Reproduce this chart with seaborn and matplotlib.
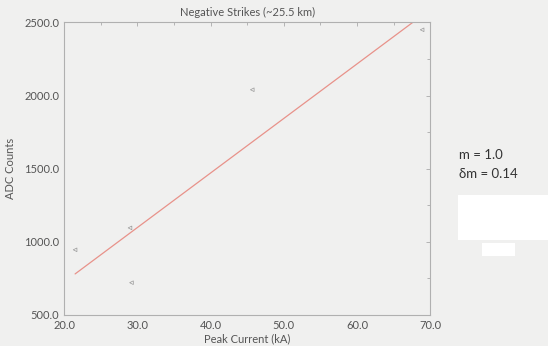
import numpy as np
import pandas as pd
import matplotlib
matplotlib.use("Agg")
import matplotlib.pyplot as plt
from matplotlib.ticker import MultipleLocator, FormatStrFormatter
import seaborn as sns

peak_current = [21.5, 29.0, 29.2, 45.7, 68.9]
adc_counts = [945, 1095, 720, 2040, 2450]

# fitted line end points
fit_x = [21.5, 67.6]
fit_y = [780, 2500]

df = pd.DataFrame({"Peak Current (kA)": peak_current, "ADC Counts": adc_counts})
fit = pd.DataFrame({"x": fit_x, "y": fit_y})

sns.set_theme(style="white")
plt.rcParams["font.family"] = ["Lato", "DejaVu Sans"]

bg = "#f0f0ef"
txt = "#555555"
fig = plt.figure(figsize=(5.48, 3.46), dpi=100, facecolor=bg)
ax = fig.add_axes([0.117, 0.09, 0.668, 0.845])
ax.set_facecolor(bg)

sns.lineplot(data=fit, x="x", y="y", ax=ax, color="#e8928a", linewidth=0.9)
sns.scatterplot(data=df, x="Peak Current (kA)", y="ADC Counts", ax=ax,
                marker="<", s=7, facecolor="none", edgecolor="#999999", linewidth=0.5)

ax.set_xlim(20, 70)
ax.set_ylim(500, 2500)
ax.xaxis.set_major_locator(MultipleLocator(10))
ax.xaxis.set_minor_locator(MultipleLocator(5))
ax.yaxis.set_major_locator(MultipleLocator(500))
ax.yaxis.set_minor_locator(MultipleLocator(250))
ax.xaxis.set_major_formatter(FormatStrFormatter("%.1f"))
ax.yaxis.set_major_formatter(FormatStrFormatter("%.1f"))
ax.tick_params(which="both", direction="in", top=True, right=True, color="#aaaaaa",
               labelsize=8, labelcolor=txt, width=0.6)
ax.tick_params(which="major", length=3)
ax.tick_params(which="minor", length=2)
for sp in ax.spines.values():
    sp.set_color("#b0b0b0")
    sp.set_linewidth(0.8)

ax.set_xlabel("Peak Current (kA)", fontsize=8, color=txt, labelpad=2)
ax.set_ylabel("ADC Counts", fontsize=8, color=txt, labelpad=6)
ax.set_title("Negative Strikes (~25.5 km)", fontsize=8, color=txt, pad=5)

fig.text(0.838, 0.54, "m = 1.0", fontsize=9.5, color="#333333")
fig.text(0.838, 0.485, "\u03b4m = 0.14", fontsize=9.5, color="#333333")
fig.patches.append(plt.Rectangle((0.835, 0.305), 0.165, 0.13, transform=fig.transFigure,
                                 facecolor="white", edgecolor="none"))
fig.patches.append(plt.Rectangle((0.88, 0.26), 0.06, 0.038, transform=fig.transFigure,
                                 facecolor="white", edgecolor="none"))

fig.savefig("out.png", dpi=100, facecolor=bg)
